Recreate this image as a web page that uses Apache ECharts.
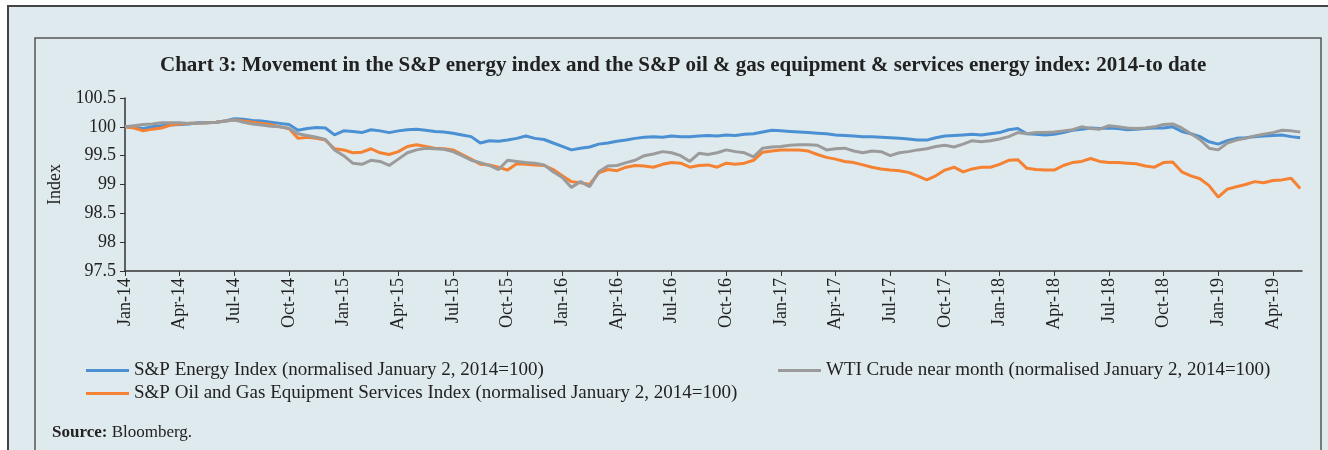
<!DOCTYPE html>
<html>
<head>
    <meta charset="utf-8">
    <title>Chart 3</title>
    <script src="https://cdn.jsdelivr.net/npm/echarts@6/dist/echarts.min.js"></script>
    <style>
        html, body { margin: 0; padding: 0; background: #fff; }
    </style>
</head>
<body>
  <div id="main" style="width: 1328px;height:450px;"></div>

  <script>
      // quarter tick labels, one every 3 months from Jan-14
      var tickLabels = ['Jan-14','Apr-14','Jul-14','Oct-14','Jan-15','Apr-15','Jul-15','Oct-15',
          'Jan-16','Apr-16','Jul-16','Oct-16','Jan-17','Apr-17','Jul-17','Oct-17',
          'Jan-18','Apr-18','Jul-18','Oct-18','Jan-19','Apr-19'];

      // readings taken every half month, starting 2 Jan 2014
      var stepMonths = 0.5;

      var energy = [
          100.00, 99.99, 99.97, 100.00, 100.02, 100.03, 100.04, 100.05, 100.07, 100.07,
          100.08, 100.10, 100.14, 100.13, 100.11, 100.10, 100.08, 100.06, 100.04, 99.94,
          99.97, 99.99, 99.98, 99.86, 99.93, 99.92, 99.90, 99.95, 99.93, 99.90,
          99.93, 99.95, 99.96, 99.94, 99.92, 99.91, 99.89, 99.86, 99.83, 99.72,
          99.76, 99.75, 99.77, 99.80, 99.84, 99.80, 99.78, 99.72, 99.66, 99.60,
          99.63, 99.65, 99.70, 99.72, 99.75, 99.77, 99.80, 99.82, 99.83, 99.82,
          99.84, 99.83, 99.83, 99.84, 99.85, 99.84, 99.86, 99.85, 99.87, 99.88,
          99.91, 99.94, 99.93, 99.92, 99.91, 99.90, 99.89, 99.88, 99.86, 99.85,
          99.84, 99.83, 99.83, 99.82, 99.81, 99.80, 99.79, 99.77, 99.77, 99.81,
          99.84, 99.85, 99.86, 99.87, 99.86, 99.88, 99.90, 99.95, 99.97, 99.88,
          99.87, 99.86, 99.87, 99.90, 99.94, 99.96, 99.98, 99.97, 99.98, 99.97,
          99.95, 99.96, 99.97, 99.98, 99.98, 100.00, 99.92, 99.88, 99.83, 99.74,
          99.70, 99.76, 99.80, 99.81, 99.83, 99.84, 99.85, 99.86, 99.83, 99.81
      ];

      var oilGas = [
          100.00, 99.98, 99.93, 99.96, 99.98, 100.03, 100.05, 100.06, 100.06, 100.07,
          100.08, 100.10, 100.12, 100.10, 100.08, 100.06, 100.04, 100.00, 99.97, 99.80,
          99.82, 99.80, 99.77, 99.62, 99.60, 99.55, 99.56, 99.62, 99.55, 99.52,
          99.57, 99.66, 99.69, 99.66, 99.63, 99.62, 99.60, 99.52, 99.44, 99.35,
          99.34, 99.30, 99.25, 99.36, 99.35, 99.34, 99.33, 99.26, 99.15, 99.05,
          99.03, 99.00, 99.20, 99.26, 99.24, 99.30, 99.33, 99.32, 99.30, 99.35,
          99.38, 99.37, 99.30, 99.33, 99.34, 99.30, 99.37, 99.35, 99.37, 99.42,
          99.56, 99.58, 99.60, 99.60, 99.60, 99.58, 99.52, 99.47, 99.44, 99.40,
          99.38, 99.34, 99.30, 99.27, 99.25, 99.24, 99.21, 99.15, 99.08, 99.15,
          99.25, 99.30, 99.22, 99.27, 99.30, 99.30, 99.35, 99.42, 99.43, 99.28,
          99.26, 99.25, 99.25, 99.33, 99.38, 99.40, 99.45, 99.40, 99.38, 99.38,
          99.37, 99.36, 99.32, 99.30, 99.38, 99.39, 99.22, 99.15, 99.10, 98.98,
          98.78, 98.92, 98.96, 99.00, 99.05, 99.03, 99.07, 99.08, 99.11, 98.93
      ];

      var wti = [
          100.00, 100.02, 100.04, 100.05, 100.07, 100.07, 100.07, 100.06, 100.06, 100.07,
          100.08, 100.10, 100.12, 100.08, 100.05, 100.03, 100.01, 100.00, 99.97, 99.88,
          99.85, 99.82, 99.78, 99.60, 99.50, 99.37, 99.35, 99.42, 99.40, 99.33,
          99.44, 99.55, 99.60, 99.63, 99.62, 99.61, 99.57, 99.50, 99.42, 99.38,
          99.33, 99.26, 99.42, 99.40, 99.38, 99.37, 99.34, 99.22, 99.12, 98.95,
          99.05, 98.96, 99.22, 99.32, 99.33, 99.38, 99.42, 99.50, 99.53, 99.57,
          99.55, 99.50, 99.40, 99.54, 99.52, 99.55, 99.60, 99.57, 99.55, 99.48,
          99.63, 99.65, 99.66, 99.68, 99.69, 99.69, 99.68, 99.60, 99.62, 99.63,
          99.58, 99.55, 99.58, 99.57, 99.50, 99.55, 99.57, 99.60, 99.62, 99.66,
          99.68, 99.65, 99.70, 99.76, 99.74, 99.76, 99.79, 99.83, 99.90, 99.88,
          99.90, 99.90, 99.91, 99.93, 99.95, 100.00, 99.97, 99.96, 100.02, 100.00,
          99.98, 99.97, 99.98, 100.00, 100.04, 100.05, 99.98, 99.88, 99.78, 99.63,
          99.60, 99.72, 99.77, 99.80, 99.84, 99.87, 99.90, 99.94, 99.93, 99.91
      ];

      function pairs(values) {
          return values.map(function (v, i) { return [i * stepMonths, v]; });
      }

      var tickValues = tickLabels.map(function (t, i) { return i * 3; });
      var fontFam = '"Liberation Serif", "DejaVu Serif", serif';

      var myChart = echarts.init(document.getElementById('main'));

      var option = {
          animation: false,
          textStyle: { fontFamily: fontFam, color: '#222' },
          title: {
              text: 'Chart 3: Movement in the S&P energy index and the S&P oil & gas equipment & services energy index: 2014-to date',
              left: 155,
              top: 50,
              textStyle: { fontFamily: fontFam, fontSize: 21, fontWeight: 'bold', color: '#222' }
          },
          graphic: [
              { type: 'rect', z: -10, shape: { x: 8, y: 6, width: 1340, height: 470 },
                style: { fill: '#dfeaee', stroke: '#444', lineWidth: 2 } },
              { type: 'rect', z: -9, shape: { x: 35, y: 38, width: 1286, height: 440 },
                style: { fill: 'none', stroke: '#555', lineWidth: 1.5 } },
              { type: 'text', left: 52, top: 424,
                style: {
                    text: '{b|Source:} Bloomberg.',
                    rich: {
                        b: { fontFamily: fontFam, fontSize: 17, fontWeight: 'bold', fill: '#222' }
                    },
                    fontFamily: fontFam, fontSize: 17, fill: '#222'
                } }
          ],
          legend: [
              {
                  left: 81, top: 356, orient: 'vertical', itemGap: 4,
                  icon: 'rect', itemWidth: 43, itemHeight: 3,
                  textStyle: { fontFamily: fontFam, fontSize: 19, color: '#222' },
                  data: ['S&P Energy Index (normalised January 2, 2014=100)',
                         'S&P Oil and Gas Equipment Services Index (normalised January 2, 2014=100)']
              },
              {
                  left: 773, top: 356, orient: 'vertical',
                  icon: 'rect', itemWidth: 43, itemHeight: 3,
                  textStyle: { fontFamily: fontFam, fontSize: 19, color: '#222' },
                  data: ['WTI Crude near month (normalised January 2, 2014=100)']
              }
          ],
          grid: { left: 125, right: 26, top: 98, bottom: 179 },
          xAxis: {
              type: 'value',
              min: 0,
              max: 64.6,
              axisLine: { lineStyle: { color: '#333', width: 1.5 } },
              axisTick: { customValues: tickValues, length: 5, lineStyle: { color: '#333' } },
              axisLabel: {
                  customValues: tickValues,
                  rotate: 90, margin: 7,
                  fontFamily: fontFam, fontSize: 18, color: '#222',
                  formatter: function (v) { return tickLabels[Math.round(v / 3)] || ''; }
              },
              splitLine: { show: false }
          },
          yAxis: {
              type: 'value',
              min: 97.5, max: 100.5, interval: 0.5,
              name: 'Index',
              nameLocation: 'middle',
              nameGap: 56,
              nameTextStyle: { fontFamily: fontFam, fontSize: 18, color: '#222' },
              axisLine: { show: true, lineStyle: { color: '#333', width: 1.5 } },
              axisTick: { show: true, length: 5, lineStyle: { color: '#333' } },
              axisLabel: { fontFamily: fontFam, fontSize: 18, color: '#222', margin: 9 },
              splitLine: { show: false }
          },
          series: [
              {
                  name: 'S&P Energy Index (normalised January 2, 2014=100)',
                  type: 'line', symbol: 'none',
                  lineStyle: { color: '#4a90d3', width: 3 },
                  itemStyle: { color: '#4a90d3' },
                  data: pairs(energy)
              },
              {
                  name: 'S&P Oil and Gas Equipment Services Index (normalised January 2, 2014=100)',
                  type: 'line', symbol: 'none',
                  lineStyle: { color: '#f58232', width: 3 },
                  itemStyle: { color: '#f58232' },
                  data: pairs(oilGas)
              },
              {
                  name: 'WTI Crude near month (normalised January 2, 2014=100)',
                  type: 'line', symbol: 'none',
                  lineStyle: { color: '#9b9b9b', width: 3 },
                  itemStyle: { color: '#9b9b9b' },
                  data: pairs(wti)
              }
          ]
      };

      myChart.setOption(option);
  </script>
</body>
</html>
